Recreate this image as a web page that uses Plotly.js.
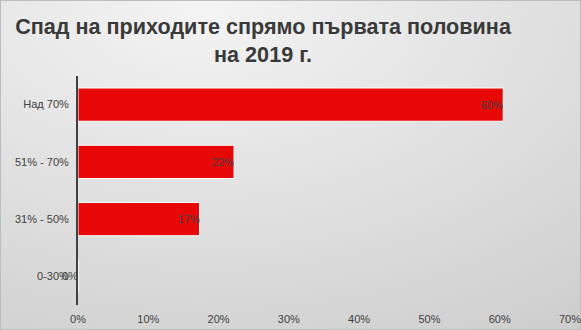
<!DOCTYPE html>
<html>
<head>
<meta charset="utf-8">
<script src="https://cdn.plot.ly/plotly-3.0.1.min.js"></script>
<style>
  html, body { margin: 0; padding: 0; }
  #chart {
    width: 581px; height: 330px; box-sizing: border-box;
    border: 1px solid #bdbdbd;
    background: radial-gradient(ellipse 120% 130% at 35% 0%, #f4f4f4 0%, #e2e2e2 45%, #cbcbcb 100%);
  }
</style>
</head>
<body>
<div id="chart"></div>
<script>
const categories = ['Над 70%', '51% - 70%', '31% - 50%', '0-30%'];
const values = [0.605, 0.222, 0.173, 0];
const valueLabels = ['60%', '22%', '17%', '0%'];
const xTickVals = [0, 0.1, 0.2, 0.3, 0.4, 0.5, 0.6, 0.7];
const xTickText = ['0%', '10%', '20%', '30%', '40%', '50%', '60%', '70%'];
const titleText = 'Спад на приходите спрямо първата половина<br>на 2019 г.';

const trace = {
  type: 'bar',
  orientation: 'h',
  y: categories,
  x: values,
  marker: { color: '#e80808', line: { color: '#ffffff', width: 1 } },
  hoverinfo: 'none'
};

const annotations = categories.map((c, i) => ({
  x: values[i], y: c, xref: 'x', yref: 'y',
  text: valueLabels[i], showarrow: false,
  xanchor: 'right', yanchor: 'middle', xshift: 2,
  font: { family: 'Liberation Sans, Arial, sans-serif', size: 11, color: '#404040' }
}));

const layout = {
  width: 581, height: 330,
  margin: { l: 77, r: 12, t: 75, b: 26, pad: 0 },
  paper_bgcolor: 'rgba(0,0,0,0)',
  plot_bgcolor: 'rgba(0,0,0,0)',
  showlegend: false,
  bargap: 0.42,
  title: {
    text: titleText,
    x: 0.451, xanchor: 'center', xref: 'container',
    y: 0.9, yanchor: 'middle', yref: 'container',
    font: { family: 'Liberation Sans, Arial, sans-serif', size: 21.6, color: '#3a3a3a', weight: 'bold' }
  },
  xaxis: {
    range: [0, 0.7],
    tickvals: xTickVals, ticktext: xTickText,
    showgrid: false, zeroline: false, showline: false,
    ticks: '', ticklabelstandoff: 6,
    tickfont: { family: 'Liberation Sans, Arial, sans-serif', size: 11, color: '#404040' },
    fixedrange: true
  },
  yaxis: {
    type: 'category',
    autorange: 'reversed',
    showgrid: false, zeroline: false,
    showline: true, linecolor: '#404040', linewidth: 2,
    ticks: '', ticklabelstandoff: 5,
    tickfont: { family: 'Liberation Sans, Arial, sans-serif', size: 11, color: '#404040' },
    fixedrange: true
  },
  annotations: annotations
};

Plotly.newPlot('chart', [trace], layout, { displayModeBar: false, staticPlot: true });
</script>
</body>
</html>
